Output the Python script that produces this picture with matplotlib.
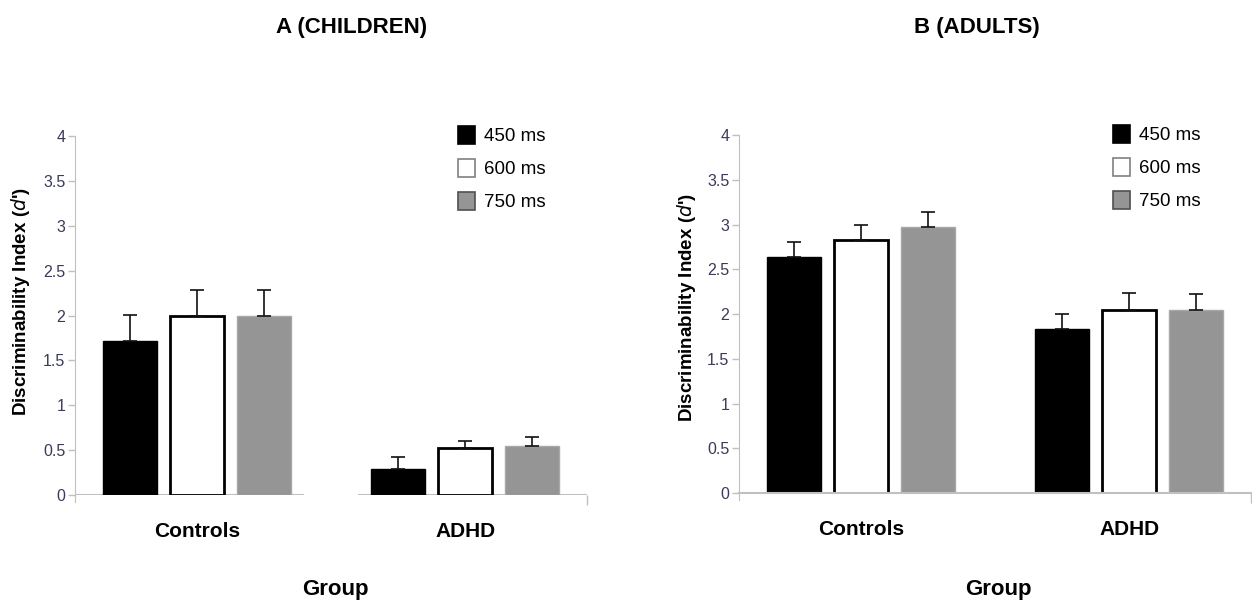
import matplotlib.pyplot as plt
from matplotlib.patches import Patch
import numpy as np

plt.rcParams['font.family'] = ['Liberation Sans', 'DejaVu Sans']

groups = ['Controls', 'ADHD']
durations = ['450 ms', '600 ms', '750 ms']

# mean d' per duration, [Controls, ADHD]
children = {
    '450 ms': [1.72, 0.29],
    '600 ms': [2.00, 0.52],
    '750 ms': [2.00, 0.55],
}
children_err = {
    '450 ms': [0.29, 0.13],
    '600 ms': [0.28, 0.08],
    '750 ms': [0.28, 0.10],
}
adults = {
    '450 ms': [2.64, 1.83],
    '600 ms': [2.83, 2.05],
    '750 ms': [2.97, 2.04],
}
adults_err = {
    '450 ms': [0.17, 0.17],
    '600 ms': [0.17, 0.18],
    '750 ms': [0.17, 0.18],
}

face = {'450 ms': '#000000', '600 ms': '#ffffff', '750 ms': '#959595'}
edge = {'450 ms': '#000000', '600 ms': '#000000', '750 ms': '#a8a8a8'}
edge_w = {'450 ms': 1, '600 ms': 2, '750 ms': 1}
leg_edge = {'450 ms': '#000000', '600 ms': '#808080', '750 ms': '#505050'}

axis_col = '#c0c0c0'
tick_col = '#3a3a5a'

fig = plt.figure(figsize=(12.52, 6.03), dpi=100)
axA = fig.add_axes([0.0599, 0.179, 0.409, 0.5954])
axB = fig.add_axes([0.5903, 0.1824, 0.409, 0.5937])


def draw_panel(ax, data, err, title, title_x, group_x, leg_x, ylab_xy, split_axis):
    x = np.arange(len(groups))
    width = 0.2
    step = 0.25
    for i, d in enumerate(durations):
        pos = x + (i - 1) * step
        vals = data[d]
        ax.bar(pos, vals, width, color=face[d], edgecolor=edge[d],
               linewidth=edge_w[d], zorder=2)
        ax.errorbar(pos, vals, yerr=[np.zeros(len(vals)), err[d]], fmt='none',
                    ecolor='#111111', elinewidth=1.2, capsize=5, capthick=1.2,
                    zorder=3)

    ax.set_xlim(-0.455, 1.455)
    ax.set_ylim(0, 4)
    ax.set_yticks(np.arange(0, 4.01, 0.5))
    ax.set_yticklabels(['0', '0.5', '1', '1.5', '2', '2.5', '3', '3.5', '4'])
    ax.tick_params(axis='y', colors=axis_col, labelcolor=tick_col,
                   labelsize=11.5, length=5, width=1, pad=2)

    ax.set_xticks(x)
    ax.set_xticklabels(groups, fontsize=15, fontweight='bold')
    ax.tick_params(axis='x', length=0, pad=19.5)
    ax.set_xticks([1.455], minor=True)
    ax.tick_params(axis='x', which='minor', length=7, color=axis_col, width=1)

    for s in ['top', 'right']:
        ax.spines[s].set_visible(False)
    ax.spines['left'].set_color(axis_col)
    ax.spines['left'].set_bounds(-0.08, 4)
    if split_axis:
        ax.spines['bottom'].set_visible(False)
        ax.axhline(0, xmin=0, xmax=0.445, color=axis_col, linewidth=1.5, zorder=1)
        ax.axhline(0, xmin=0.555, xmax=1, color=axis_col, linewidth=1.5, zorder=1)
    else:
        ax.spines['bottom'].set_color(axis_col)
        ax.spines['bottom'].set_linewidth(1.5)

    ax.set_ylabel("Discriminability Index ($\\mathit{d}$')", fontsize=13.5,
                  fontweight='bold')
    ax.yaxis.set_label_coords(*ylab_xy)

    handles = [Patch(facecolor=face[d], edgecolor=leg_edge[d], linewidth=1.2)
               for d in durations]
    ax.legend(handles, durations, loc='upper left', bbox_to_anchor=(leg_x, 1.028),
              frameon=False, fontsize=13.5, handlelength=0.9, handleheight=1.1,
              labelspacing=0.72, handletextpad=0.5, borderpad=0,
              borderaxespad=0)
    fig.text(title_x, 1 - 28 / 603, title, ha='center', va='center',
             fontsize=16, fontweight='bold')
    fig.text(group_x, 1 - 590 / 603, 'Group', ha='center', va='center',
             fontsize=16, fontweight='bold')


draw_panel(axA, children, children_err, 'A (CHILDREN)', 352 / 1252, 335 / 1252,
           0.748, (-0.084, 0.54), True)
draw_panel(axB, adults, adults_err, 'B (ADULTS)', 977 / 1252, 998 / 1252,
           0.730, (-0.080, 0.517), False)

fig.savefig('out.png', dpi=100)
